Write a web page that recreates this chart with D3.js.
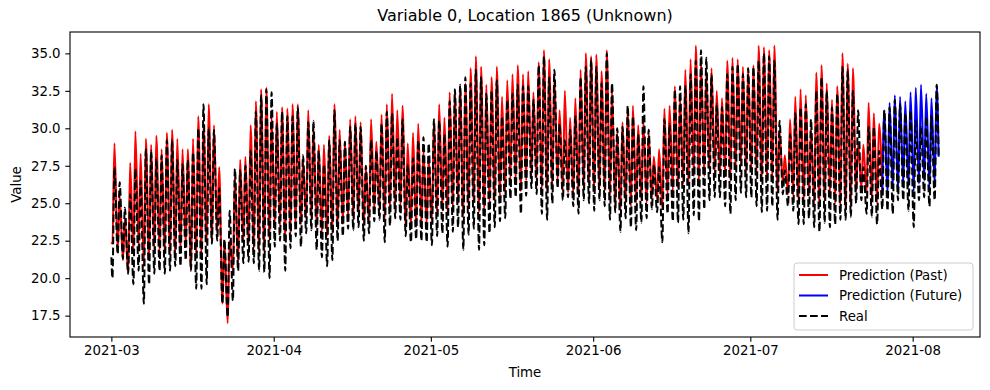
<!DOCTYPE html>
<html><head><meta charset="utf-8">
<script src="https://cdn.jsdelivr.net/npm/d3@7"></script>
<style>body{margin:0;background:#fff} svg{display:block} text{font-family:"DejaVu Sans",sans-serif;fill:#000}</style>
</head><body><svg id="chart" width="990" height="390"></svg>
<script>
// ---------------- data ----------------
const chartTitle = "Variable 0, Location 1865 (Unknown)";
const xLabel = "Time";
const yLabel = "Value";
const seriesNames = ["Prediction (Past)", "Prediction (Future)", "Real"];
const startDate = "2021-03-01";
const futureStartDay = 147;       // future prediction starts on this day (Jul 26)
const xTickLabels = ["2021-03", "2021-04", "2021-05", "2021-06", "2021-07", "2021-08"];
const yTickValues = [17.5, 20.0, 22.5, 25.0, 27.5, 30.0, 32.5, 35.0];
const firstValues = {pred: 22.4, real: 21.4};   // Mar 1, 00:00
const lastValues  = {pred: 28.1, real: 28.1};   // Aug 5, 23:00

// daily afternoon peaks and early-morning troughs, one entry per day from Mar 1
const predPeak = [
 29.0,25.5,24.0,27.7,29.8,28.3,29.3,28.9,29.5,28.6, 29.7,29.9,29.3,28.6,28.6,29.3,30.8,30.3,31.6,30.2,
 27.4,22.5,22.5,26.8,27.9,28.1,30.2,31.8,32.6,32.7, 30.8,31.1,31.4,31.3,31.6,31.6,27.8,31.2,30.0,28.9,
 28.9,29.5,31.6,29.9,29.1,30.6,30.8,30.4,27.4,30.6, 29.1,30.9,31.6,32.3,31.2,31.5,29.0,29.7,30.3,28.5,
 28.0,30.5,31.6,30.7,32.4,32.5,32.8,33.0,34.0,34.8, 34.1,32.9,33.4,34.1,32.1,33.2,33.6,34.2,33.6,33.8,
 32.4,34.4,35.2,34.6,33.4,31.2,32.5,30.7,32.0,33.9, 35.0,34.8,34.9,33.8,35.2,32.6,29.7,30.4,31.3,31.5,
 30.2,30.5,29.7,28.1,28.6,31.3,31.5,32.8,32.0,33.9, 34.6,35.5,34.5,33.8,34.0,32.5,32.0,34.5,34.7,34.6,
 34.1,34.0,34.2,35.5,35.4,35.2,35.5,29.8,28.2,30.6, 32.1,32.6,32.2,30.0,33.7,34.2,33.0,31.9,32.8,35.0,
 34.3,34.0,29.0,28.9,31.7,31.0,30.3,31.2,31.7,32.2, 32.1,31.8,32.4,32.7,32.9,32.3,32.0,32.9
];
const predTrough = [
 22.3,21.8,21.2,20.3,21.6,22.1,20.8,21.2,21.9,21.6, 21.6,21.6,21.6,21.8,22.1,20.5,21.4,21.6,22.3,22.5,
 23.0,18.3,17.0,20.5,21.0,22.5,22.3,22.0,21.8,21.8, 22.5,23.3,23.5,22.5,23.0,23.5,23.6,24.0,24.0,23.4,
 23.0,22.8,23.0,23.4,23.6,24.0,24.0,24.2,23.6,23.8, 24.5,24.5,24.0,24.5,24.8,24.8,23.5,23.3,23.4,23.5,
 23.6,23.8,24.2,24.5,24.3,24.6,25.0,24.2,24.8,25.0, 24.4,24.5,25.0,25.2,25.5,25.6,26.5,26.4,25.8,26.5,
 26.8,26.5,26.0,25.8,26.2,26.5,25.8,25.7,25.6,25.5, 26.0,26.2,25.8,26.0,25.8,25.5,24.8,24.5,25.0,24.8,
 25.0,25.2,25.0,25.3,25.2,24.6,25.5,25.8,26.0,26.3, 26.2,26.8,26.5,26.8,27.2,27.0,26.8,26.8,26.5,27.2,
 27.5,27.0,27.2,27.0,26.5,26.5,26.8,25.8,26.3,25.6, 25.5,25.0,25.0,25.5,25.0,24.8,25.2,25.5,25.0,24.8,
 24.5,24.8,25.8,26.0,25.6,25.3,25.0,25.8,25.6,26.0, 25.8,26.2,26.1,25.8,26.3,26.5,26.0,26.2
];
const realPeak = [
 27.4,26.4,24.7,25.6,27.3,26.5,28.6,28.5,28.0,28.2, 29.2,29.2,27.9,27.6,27.9,28.4,30.0,31.6,30.0,29.9,
 26.0,22.6,24.5,27.3,27.2,27.5,28.5,31.1,32.2,32.6, 32.4,30.3,31.1,30.8,30.8,31.4,28.2,30.4,30.5,28.5,
 27.6,29.2,31.2,29.2,29.1,30.1,30.3,30.1,27.5,29.2, 28.5,30.3,31.1,31.0,29.4,30.6,27.6,28.0,29.2,29.4,
 29.0,30.6,30.5,29.6,31.8,32.6,32.9,33.4,33.0,33.9, 33.4,32.3,32.5,33.2,30.8,31.9,32.3,32.9,32.8,32.8,
 31.9,34.2,34.8,33.4,33.9,30.3,29.2,29.9,30.8,33.4, 34.1,34.6,34.1,33.0,35.0,33.0,30.0,30.1,31.5,30.8,
 29.6,32.8,29.9,27.6,27.4,30.6,30.3,32.6,32.8,32.8, 33.6,34.5,35.2,34.7,33.6,31.6,31.4,33.6,34.1,34.3,
 33.6,34.0,34.1,34.5,35.0,34.8,34.5,30.5,27.2,29.6, 31.0,31.4,31.6,30.6,32.5,33.4,32.5,31.4,32.3,34.1,
 33.9,32.5,31.2,27.4,30.1,30.1,28.5,31.2,31.4,31.9, 31.6,31.0,31.2,30.5,30.1,30.8,30.8,32.9
];
const realTrough = [
 20.0,21.6,21.3,20.3,19.6,20.5,18.3,19.6,20.3,20.5, 20.3,20.5,20.8,20.8,21.2,20.5,19.3,19.3,19.6,22.3,
 22.5,18.3,17.4,18.5,20.5,21.0,21.1,21.0,20.5,20.4, 20.0,22.1,22.5,20.5,22.0,22.8,22.1,23.0,23.2,21.9,
 21.4,20.8,21.2,22.5,22.8,23.3,23.2,23.4,22.5,23.0, 23.8,23.9,22.4,23.5,24.0,23.9,22.8,22.4,22.6,22.5,
 22.4,22.2,22.8,23.0,22.1,23.1,23.4,21.9,22.9,23.3, 21.9,22.2,23.0,23.4,23.8,24.0,25.3,25.4,24.3,25.5,
 26.0,25.6,24.3,23.9,25.0,26.0,25.2,25.4,24.8,24.3, 25.2,25.0,24.5,25.2,24.8,23.9,24.4,23.1,24.0,23.4,
 23.2,23.7,24.0,24.6,24.4,22.4,24.3,23.8,23.7,23.9, 23.0,24.2,23.8,24.6,25.2,25.4,25.4,24.8,24.3,25.2,
 25.7,25.4,25.4,24.8,24.4,24.5,24.8,23.9,25.6,24.8, 24.5,23.6,23.6,24.0,23.4,23.1,23.7,23.4,23.6,23.9,
 23.9,24.1,25.0,25.2,24.3,24.1,23.6,24.6,24.5,24.3, 25.2,25.2,24.5,23.4,25.2,25.4,24.8,25.2
];

// ---------------- build series ----------------
const DAY = 864e5;
const t0 = d3.utcParse("%Y-%m-%d")(startDate);
const at = (day, hour) => new Date(+t0 + day * DAY + hour * 36e5);
const nDays = predPeak.length;
function build(peaks, troughs, first, last) {
  const pts = [{t: at(0, 0), v: first, day: -1}];
  for (let d = 0; d < nDays; d++) {
    pts.push({t: at(d, 5), v: troughs[d], day: d});
    pts.push({t: at(d, 14), v: peaks[d], day: d + 0.5});
  }
  pts.push({t: at(nDays - 1, 23), v: last, day: nDays});
  return pts;
}
const pred = build(predPeak, predTrough, firstValues.pred, lastValues.pred);
const real = build(realPeak, realTrough, firstValues.real, lastValues.real);
const predPast = pred.filter(p => p.day <= futureStartDay);
const predFuture = pred.filter(p => p.day >= futureStartDay);

// ---------------- layout ----------------
const svg = d3.select("#chart");
const L = 70, R = 980, T = 32, B = 337;
const tMin = pred[0].t, tMax = pred[pred.length - 1].t;
const span = tMax - tMin;
const x = d3.scaleUtc().domain([new Date(+tMin - 0.05 * span), new Date(+tMax + 0.05 * span)]).range([L, R]);
const allV = pred.concat(real).map(p => p.v);
const vMin = d3.min(allV), vMax = d3.max(allV), vr = vMax - vMin;
const y = d3.scaleLinear().domain([vMin - 0.05 * vr, vMax + 0.05 * vr]).range([B, T]);

const line = d3.line().x(p => x(p.t)).y(p => y(p.v)).curve(d3.curveMonotoneX);

const g = svg.append("g");
g.append("path").datum(predPast).attr("d", line).attr("fill", "none").attr("stroke", "#ff0000").attr("stroke-width", 2).attr("stroke-linejoin", "round");
g.append("path").datum(predFuture).attr("d", line).attr("fill", "none").attr("stroke", "#0000ff").attr("stroke-width", 2).attr("stroke-linejoin", "round");
g.append("path").datum(real).attr("d", line).attr("fill", "none").attr("stroke", "#000").attr("stroke-width", 2).attr("stroke-dasharray", "7.7,3.3");

// axes
const fs = "13.33px";
const monthParse = d3.utcParse("%Y-%m");
const xAxis = d3.axisBottom(x).tickValues(xTickLabels.map(monthParse)).tickFormat(d3.utcFormat("%Y-%m")).tickSize(4.7).tickPadding(4.2).tickSizeOuter(0);
const gx = svg.append("g").attr("transform", `translate(0,${B})`).call(xAxis);
gx.select(".domain").remove();
gx.selectAll("text").style("font-size", fs).style("font-family", "DejaVu Sans");
gx.selectAll("line").attr("stroke-width", 1.1);

const yAxis = d3.axisLeft(y).tickValues(yTickValues).tickFormat(d3.format(".1f")).tickSize(4.7).tickPadding(4.7).tickSizeOuter(0);
const gy = svg.append("g").attr("transform", `translate(${L},0)`).call(yAxis);
gy.select(".domain").remove();
gy.selectAll("text").style("font-size", fs).style("font-family", "DejaVu Sans");
gy.selectAll("line").attr("stroke-width", 1.1);

// frame
svg.append("rect").attr("x", L).attr("y", T).attr("width", R - L).attr("height", B - T)
  .attr("fill", "none").attr("stroke", "#000").attr("stroke-width", 1.1);

// labels
svg.append("text").attr("x", (L + R) / 2).attr("y", 21).attr("text-anchor", "middle").style("font-size", "16px").text(chartTitle);
svg.append("text").attr("x", (L + R) / 2).attr("y", 377).attr("text-anchor", "middle").style("font-size", fs).text(xLabel);
svg.append("text").attr("transform", `translate(21,${(T + B) / 2}) rotate(-90)`).attr("text-anchor", "middle").style("font-size", fs).text(yLabel);

// legend
const lg = svg.append("g");
lg.append("rect").attr("x", 794).attr("y", 263).attr("width", 179).attr("height", 67).attr("rx", 3)
  .attr("fill", "#fff").attr("fill-opacity", 0.8).attr("stroke", "#cccccc").attr("stroke-width", 1);
const legendStyles = [
  {c: "#ff0000", dash: null},
  {c: "#0000ff", dash: null},
  {c: "#000", dash: "7.7,3.3"}
];
seriesNames.forEach((name, i) => {
  const yy = 275 + i * 20.5;
  const ln = lg.append("line").attr("x1", 799).attr("x2", 828).attr("y1", yy).attr("y2", yy)
    .attr("stroke", legendStyles[i].c).attr("stroke-width", 2);
  if (legendStyles[i].dash) ln.attr("stroke-dasharray", legendStyles[i].dash);
  lg.append("text").attr("x", 839).attr("y", yy).attr("dy", "0.35em").style("font-size", fs).text(name);
});
</script></body></html>
